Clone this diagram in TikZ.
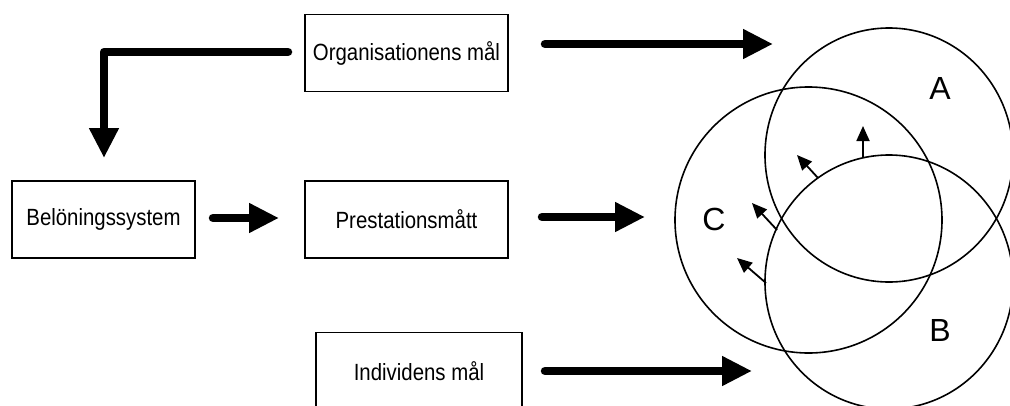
\documentclass[tikz,border=0pt]{standalone}
\usepackage{graphicx}
\usepackage{fontspec}
\setmainfont{Liberation Sans}
\usetikzlibrary{arrows.meta}
\newcommand\tallt[1]{\scalebox{1}[1.15]{#1}}
\begin{document}
\begin{tikzpicture}[x=1pt,y=-1pt,
  box/.style={draw,line width=1.4pt,minimum height=77pt,inner sep=0pt,font=\fontsize{20.4}{24}\selectfont},
  bigarrow/.style={line width=8.5pt,line cap=round,line join=round,-{Triangle[length=30pt,width=28pt]}},
  ring/.style={draw,line width=1.6pt},
  smallarrow/.style={line width=1.8pt,-{Triangle[length=15pt,width=13pt]}},
  letter/.style={inner sep=0pt,font=\fontsize{32}{36}\selectfont}]
\useasboundingbox (0,0) rectangle (1010,405);
% boxes
\node[box,minimum width=203pt] (org) at (406.5,53) {\tallt{Organisationens mål}};
\node[box,minimum width=183pt] (bel) at (103.5,219.5) {\tallt{Belöningssystem}};
\node[box,minimum width=203pt] (pre) at (406.5,219.5) {\tallt{Prestationsmått}};
\node[box,minimum width=206pt] (ind) at (419,371) {\tallt{Individens mål}};
% circles
\draw[ring] (889,155) ellipse [x radius=124, y radius=127];
\draw[ring] (889,282) ellipse [x radius=124, y radius=127];
\draw[ring] (808.5,220) ellipse [x radius=133.5, y radius=133];
\node[letter] (la) at (940,88.5) {A};
\node[letter] (lb) at (940,330) {B};
\node[letter] (lc) at (714,219.5) {C};
% connector end points
\coordinate (orgS) at (545,44);
\coordinate (orgE) at (773,44);
\coordinate (elbS) at (288,52);
\coordinate (elbC) at (104,52);
\coordinate (elbE) at (104,158);
\coordinate (belS) at (213,218);
\coordinate (belE) at (279,218);
\coordinate (preS) at (542,217);
\coordinate (preE) at (645,217);
\coordinate (indS) at (545,371);
\coordinate (indE) at (752,371);
% thick arrows
\draw[bigarrow] (orgS) -- (orgE);
\draw[bigarrow] (elbS) -- (elbC) -- (elbE);
\draw[bigarrow] (belS) -- (belE);
\draw[bigarrow] (preS) -- (preE);
\draw[bigarrow] (indS) -- (indE);
% small arrows
\coordinate (s1) at (863,158); \coordinate (e1) at (863,126);
\coordinate (s2) at (818,178); \coordinate (e2) at (797,155);
\coordinate (s3) at (777,230); \coordinate (e3) at (752,203);
\coordinate (s4) at (766,283); \coordinate (e4) at (737,258);
\draw[smallarrow] (s1) -- (e1);
\draw[smallarrow] (s2) -- (e2);
\draw[smallarrow] (s3) -- (e3);
\draw[smallarrow] (s4) -- (e4);
\end{tikzpicture}
\end{document}
